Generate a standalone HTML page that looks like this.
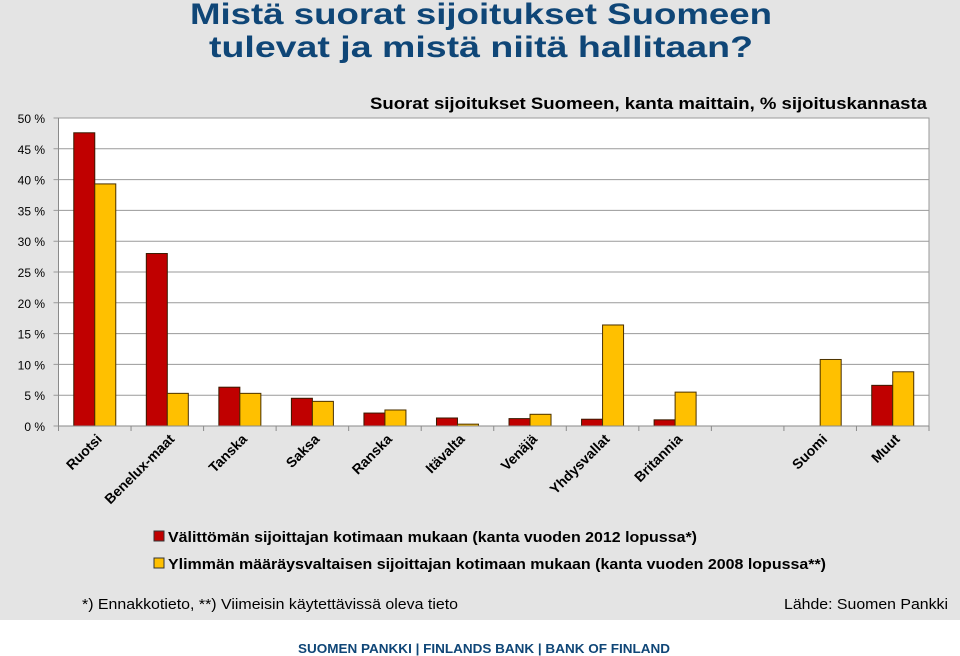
<!DOCTYPE html>
<html><head><meta charset="utf-8"><style>
html,body{margin:0;padding:0;background:#fff}
svg{display:block;font-family:"Liberation Sans",Arial,sans-serif}
</style></head><body>
<svg width="960" height="656" viewBox="0 0 960 656">
<rect x="0" y="0" width="960" height="620" fill="#e4e4e4"/>
<text x="481" y="24" text-anchor="middle" font-size="30" font-weight="bold" fill="#0f4677" textLength="582" lengthAdjust="spacingAndGlyphs">Mistä suorat sijoitukset Suomeen</text>
<text x="481" y="57" text-anchor="middle" font-size="30" font-weight="bold" fill="#0f4677" textLength="544" lengthAdjust="spacingAndGlyphs">tulevat ja mistä niitä hallitaan?</text>
<text x="927" y="109" text-anchor="end" font-size="17" font-weight="bold" fill="#000" textLength="557" lengthAdjust="spacingAndGlyphs">Suorat sijoitukset Suomeen, kanta maittain, % sijoituskannasta</text>
<rect x="58.5" y="118" width="870.5" height="308" fill="#fff" stroke="#9a9a9a" stroke-width="1"/>
<g id="grid"></g>
<g id="yticks"></g>
<g id="bars"></g>
<g id="xlabels"></g>
<g>
<rect x="154" y="531" width="10" height="10" fill="#c00000" stroke="#333" stroke-width="1"/>
<text x="168" y="542" font-size="15" font-weight="bold" textLength="529" lengthAdjust="spacingAndGlyphs">Välittömän sijoittajan kotimaan mukaan (kanta vuoden 2012 lopussa*)</text>
<rect x="154" y="558" width="10" height="10" fill="#ffc000" stroke="#333" stroke-width="1"/>
<text x="168" y="569" font-size="15" font-weight="bold" textLength="658" lengthAdjust="spacingAndGlyphs">Ylimmän määräysvaltaisen sijoittajan kotimaan mukaan (kanta vuoden 2008 lopussa**)</text>
</g>
<text x="82" y="609" font-size="15" textLength="376" lengthAdjust="spacingAndGlyphs">*) Ennakkotieto, **) Viimeisin käytettävissä oleva tieto</text>
<text x="948" y="609" text-anchor="end" font-size="15" textLength="164" lengthAdjust="spacingAndGlyphs">Lähde: Suomen Pankki</text>
<text x="484" y="653" text-anchor="middle" font-size="13" font-weight="bold" fill="#0f4677" textLength="372" lengthAdjust="spacingAndGlyphs">SUOMEN PANKKI | FINLANDS BANK | BANK OF FINLAND</text>
</svg>
<script>
const categories = ["Ruotsi","Benelux-maat","Tanska","Saksa","Ranska","Itävalta","Venäjä","Yhdysvallat","Britannia","","Suomi","Muut"];
const directValues = [47.6, 28.0, 6.3, 4.5, 2.1, 1.3, 1.2, 1.1, 1.0, null, null, 6.6];
const ultimateValues = [39.3, 5.3, 5.3, 4.0, 2.6, 0.3, 1.9, 16.4, 5.5, null, 10.8, 8.8];
const yTicks = [0,5,10,15,20,25,30,35,40,45,50];
const yTickLabels = ["0 %","5 %","10 %","15 %","20 %","25 %","30 %","35 %","40 %","45 %","50 %"];

const NS = "http://www.w3.org/2000/svg";
const X0 = 58.5, X1 = 929, Y0 = 426, Y1 = 118, YMAX = 50;
const step = (X1 - X0) / categories.length;
const BW = 21;
function yScale(v){ return Y0 - (v / YMAX) * (Y0 - Y1); }
function xCenter(i){ return X0 + step * (i + 0.5); }
function mk(tag, attrs){ const e = document.createElementNS(NS, tag); for (const k in attrs) e.setAttribute(k, attrs[k]); return e; }

const grid = document.getElementById("grid");
const yt = document.getElementById("yticks");
yTicks.forEach((t, i) => {
  const y = yScale(t);
  const l = mk("line", {x1: X0 - 5, x2: X1, y1: y, y2: y, stroke: "#9a9a9a", "stroke-width": 1});
  
  
  grid.appendChild(l);
  const tx = mk("text", {x: 45, y: y + 5, "text-anchor": "end", "font-size": 12});
  tx.textContent = yTickLabels[i];
  
  
  yt.appendChild(tx);
});
const ax = mk("line", {x1: X0, x2: X0, y1: Y1, y2: Y0, stroke: "#8a8a8a", "stroke-width": 1});


yt.appendChild(ax);

const bars = document.getElementById("bars");
const xl = document.getElementById("xlabels");
categories.forEach((c, i) => {
  const cx = xCenter(i);
  if (directValues[i] != null) {
    const y = yScale(directValues[i]);
    const r = mk("rect", {x: cx - BW, y: y, width: BW, height: Y0 - y, fill: "#c00000", stroke: "#3a1a00", "stroke-width": 1});
    
    
    bars.appendChild(r);
  }
  if (ultimateValues[i] != null) {
    const y = yScale(ultimateValues[i]);
    const r = mk("rect", {x: cx, y: y, width: BW, height: Y0 - y, fill: "#ffc000", stroke: "#4a3000", "stroke-width": 1});
    
    
    bars.appendChild(r);
  }
  const tk = mk("line", {x1: X0 + step * i, x2: X0 + step * i, y1: Y0, y2: Y0 + 5, stroke: "#8a8a8a"});
  
  
  xl.appendChild(tk);
  if (c) {
    const tx = mk("text", {x: cx + 8, y: 440, "text-anchor": "end", "font-size": 14, "font-weight": "bold", transform: "rotate(-45 " + (cx + 8) + " 440)"});
    tx.textContent = c;
    
    
    xl.appendChild(tx);
  }
});
const tkEnd = mk("line", {x1: X1, x2: X1, y1: Y0, y2: Y0 + 5, stroke: "#8a8a8a"});


xl.appendChild(tkEnd);
const xa = mk("line", {x1: X0, x2: X1, y1: Y0, y2: Y0, stroke: "#8a8a8a"});


xl.appendChild(xa);
</script>
</body></html>
